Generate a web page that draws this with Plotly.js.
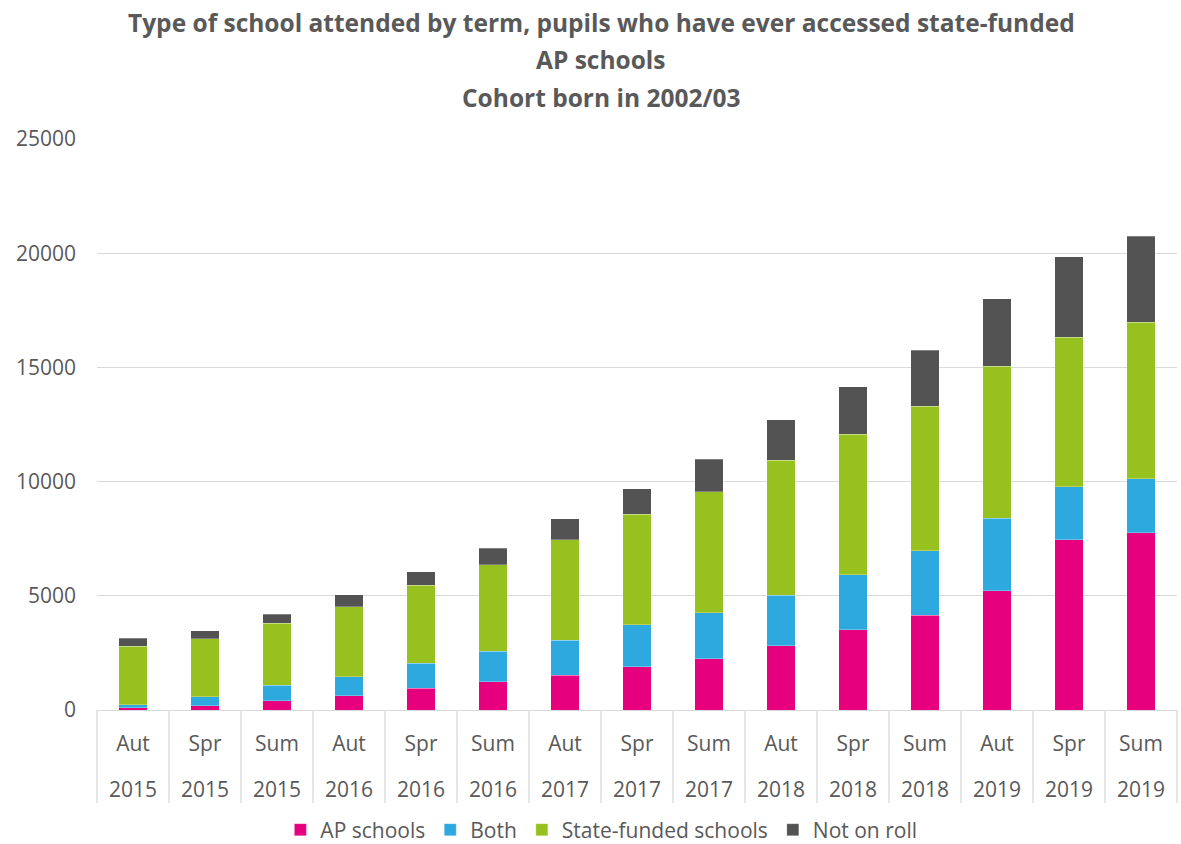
<!DOCTYPE html>
<html>
<head>
<meta charset="utf-8">
<script src="https://cdn.plot.ly/plotly-3.0.1.min.js"></script>
<style>
  html, body { margin: 0; padding: 0; background: #ffffff; }
  #chart { width: 1181px; height: 844px; }
</style>
</head>
<body>
<div id="chart"></div>
<script>
// Terms and academic years for each column
const terms = ['Aut', 'Spr', 'Sum', 'Aut', 'Spr', 'Sum', 'Aut', 'Spr', 'Sum', 'Aut', 'Spr', 'Sum', 'Aut', 'Spr', 'Sum'];
const years = ['2015', '2015', '2015', '2016', '2016', '2016', '2017', '2017', '2017', '2018', '2018', '2018', '2019', '2019', '2019'];

// Pupil counts by school type attended in each term
const apSchools = [100, 190, 410, 630, 950, 1230, 1530, 1900, 2250, 2810, 3510, 4150, 5230, 7450, 7770];
const both = [120, 380, 670, 830, 1090, 1350, 1520, 1840, 2010, 2220, 2420, 2830, 3170, 2320, 2360];
const stateFunded = [2570, 2550, 2710, 3060, 3420, 3770, 4410, 4820, 5300, 5900, 6140, 6330, 6640, 6540, 6840];
const notOnRoll = [350, 360, 410, 525, 585, 730, 920, 1120, 1410, 1780, 2080, 2450, 2970, 3540, 3780];

const seriesNames = ['AP schools', 'Both', 'State-funded schools', 'Not on roll'];
const seriesColors = ['#E6007E', '#2EA9E0', '#97C11F', '#535353'];
const seriesValues = [apSchools, both, stateFunded, notOnRoll];

const titleLines = [
  'Type of school attended by term, pupils who have ever accessed state-funded',
  'AP schools',
  'Cohort born in 2002/03'
];

const FONT = '"Open Sans", "Liberation Sans", sans-serif';
const TEXT_GREY = '#595959';
const PLOT_H = 571;   // height of the plotting area in px

const xKeys = terms.map((t, i) => i);

const traces = seriesNames.map((name, k) => ({
  type: 'bar',
  name: name,
  x: xKeys,
  y: seriesValues[k],
  marker: {
    color: seriesColors[k],
    line: { color: 'rgba(255,255,255,0.45)', width: 0.6 }
  },
  hoverinfo: 'name+y'
}));

// Column separators under the axis, one at every category boundary
const shapes = [];
for (let i = 0; i <= terms.length; i++) {
  shapes.push({
    type: 'line',
    xref: 'paper', yref: 'paper',
    x0: i / terms.length, x1: i / terms.length,
    y0: 0, y1: -93 / PLOT_H,
    line: { color: '#d9d9d9', width: 1.3 }
  });
}

// Three centred title lines
const annotations = titleLines.map((line, i) => ({
  text: '<b>' + line + '</b>',
  xref: 'paper', yref: 'paper',
  x: 0.467, y: 1.0 + (117 - 37.5 * i) / PLOT_H,
  xanchor: 'center', yanchor: 'middle',
  showarrow: false,
  font: { family: FONT, size: 24.5, color: TEXT_GREY }
}));

// Second row of the category axis: the year under each term
years.forEach((yr, i) => {
  annotations.push({
    text: yr,
    xref: 'x', yref: 'paper',
    x: xKeys[i], y: -79 / PLOT_H,
    xanchor: 'center', yanchor: 'middle',
    showarrow: false,
    font: { family: FONT, size: 21, color: TEXT_GREY }
  });
});

const layout = {
  width: 1181,
  height: 844,
  paper_bgcolor: '#ffffff',
  plot_bgcolor: '#ffffff',
  margin: { l: 97, r: 4, t: 139, b: 134, autoexpand: false },
  barmode: 'stack',
  bargap: 0.6,
  showlegend: true,
  font: { family: FONT, color: TEXT_GREY },
  xaxis: {
    type: 'linear',
    range: [-0.5, terms.length - 0.5],
    tickmode: 'array',
    tickvals: xKeys,
    ticktext: terms,
    ticks: '',
    ticklabelstandoff: 14,
    showgrid: false,
    zeroline: false,
    showline: true,
    linecolor: '#d9d9d9',
    linewidth: 1.3,
    tickfont: { family: FONT, size: 21, color: TEXT_GREY },
    fixedrange: true
  },
  yaxis: {
    range: [0, 25000],
    tickmode: 'linear',
    tick0: 0,
    dtick: 5000,
    tickformat: 'd',
    showgrid: true,
    gridcolor: '#d9d9d9',
    gridwidth: 1.3,
    zeroline: false,
    ticks: '',
    ticklabelstandoff: 20,
    tickfont: { family: FONT, size: 21, color: TEXT_GREY },
    fixedrange: true
  },
  legend: {
    orientation: 'h',
    x: 0.467,
    xanchor: 'center',
    y: -120 / PLOT_H,
    yanchor: 'middle',
    traceorder: 'normal',
    font: { family: FONT, size: 21, color: TEXT_GREY },
    itemwidth: 30,
    bgcolor: 'rgba(0,0,0,0)'
  },
  shapes: shapes,
  annotations: annotations
};

Plotly.newPlot('chart', traces, layout, { displayModeBar: false, staticPlot: true });
</script>
</body>
</html>
